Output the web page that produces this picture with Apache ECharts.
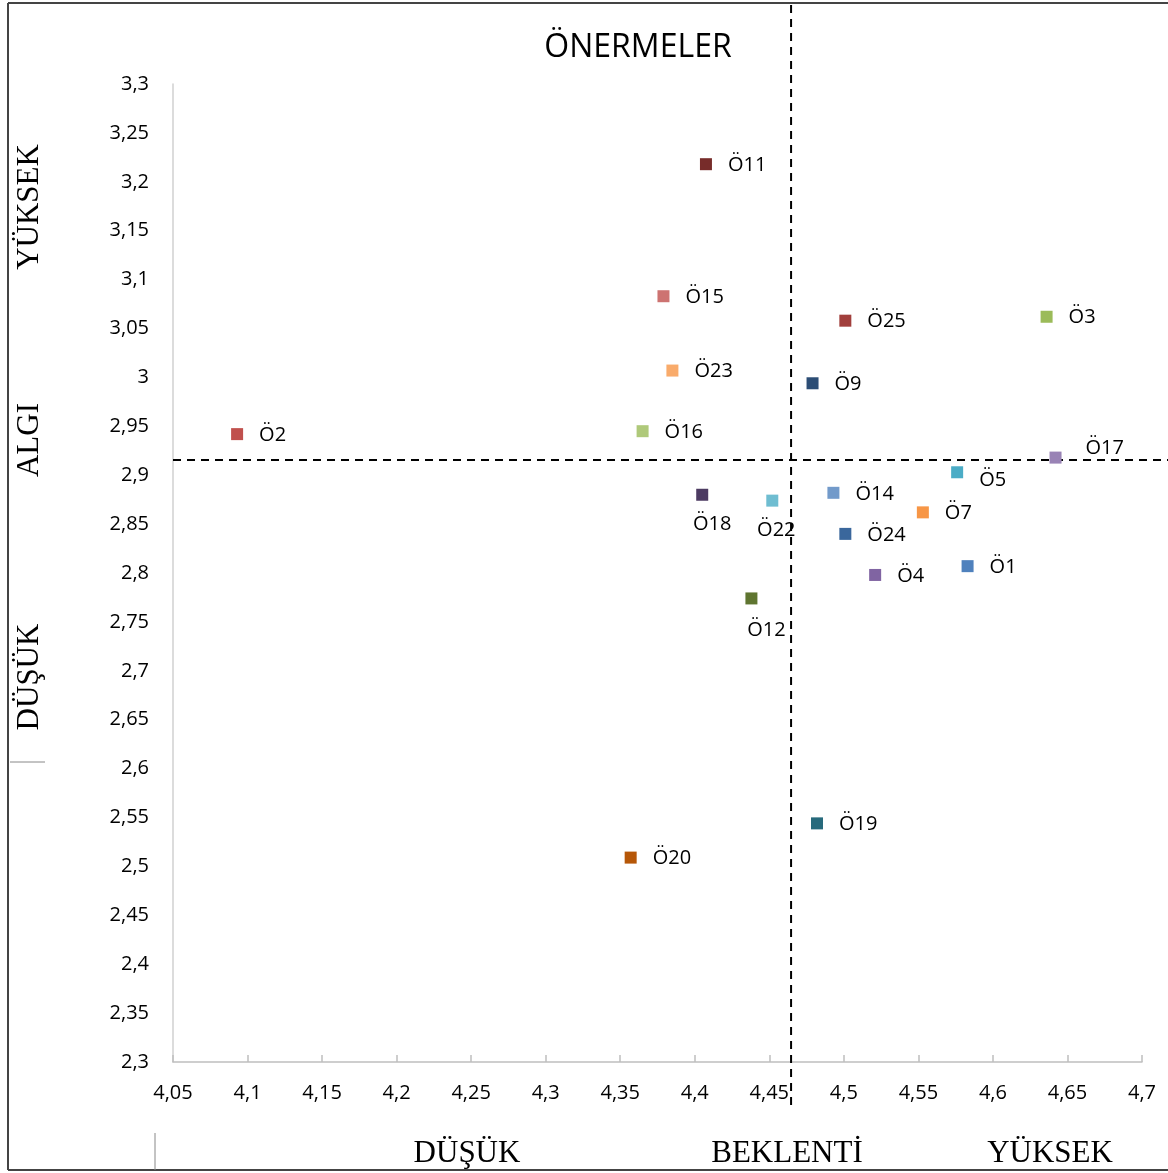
<!DOCTYPE html>
<html>
<head>
<meta charset="utf-8">
<script src="https://cdn.jsdelivr.net/npm/echarts@6/dist/echarts.min.js"></script>
<style>
  html, body { margin: 0; padding: 0; background: #fff; }
  #chart { width: 1168px; height: 1173px; }
</style>
</head>
<body>
<div id="chart"></div>
<script>
// önermeler: beklenti (x) ve algı (y) ortalamaları
const names = ['Ö1', 'Ö2', 'Ö3', 'Ö4', 'Ö5', 'Ö7', 'Ö9', 'Ö11', 'Ö12', 'Ö14',
  'Ö15', 'Ö16', 'Ö17', 'Ö18', 'Ö19', 'Ö20', 'Ö22', 'Ö23', 'Ö24', 'Ö25'];
const beklenti = [4.583, 4.093, 4.636, 4.521, 4.576, 4.553, 4.479, 4.4075, 4.438, 4.493,
  4.379, 4.365, 4.642, 4.405, 4.482, 4.357, 4.452, 4.385, 4.501, 4.501];
const algi = [2.807, 2.942, 3.062, 2.798, 2.903, 2.862, 2.994, 3.218, 2.774, 2.882,
  3.083, 2.945, 2.918, 2.880, 2.544, 2.509, 2.874, 3.007, 2.840, 3.058];
const colors = ['#4F81BD', '#C0504D', '#9BBB59', '#8064A2', '#4BACC6', '#F79646', '#2C4D75', '#772C2A', '#5F7530', '#729ACA',
  '#CD7371', '#AFC97A', '#9983B5', '#4D3B62', '#276A7C', '#B65708', '#6FBDD1', '#F9AB6B', '#3A679C', '#A13F3C'];

// ortalama çizgileri
const beklentiOrt = 4.4646;
const algiOrt = 2.9155;

const xTicks = { min: 4.05, max: 4.7, interval: 0.05 };
const yTicks = { min: 2.3, max: 3.3, interval: 0.05 };

// etiket yerleşimi (varsayılan: sağ)
const labelPlace = {
  'Ö18': { position: 'bottom', offset: [10, -2] },
  'Ö22': { position: 'bottom', offset: [4, -2] },
  'Ö12': { position: 'bottom', offset: [15, 0] },
  'Ö17': { position: 'right', offset: [8, -9] },
  'Ö5': { position: 'right', offset: [0, 8] },
};

const comma = v => String(+v.toFixed(2)).replace('.', ',');
const labelFont = '"Open Sans", "Noto Sans", sans-serif';
const serif = '"Liberation Serif", "DejaVu Serif", serif';

const chart = echarts.init(document.getElementById('chart'));

const data = names.map((n, i) => {
  const lp = labelPlace[n] || { position: 'right', offset: [0, 1] };
  return {
    name: n,
    value: [beklenti[i], algi[i]],
    itemStyle: { color: colors[i], opacity: 1 },
    label: { position: lp.position, offset: lp.offset },
  };
});

chart.setOption({
  animation: false,
  backgroundColor: '#fff',
  grid: { left: 173, right: 26, top: 84, bottom: 111 },
  xAxis: {
    type: 'value',
    min: xTicks.min, max: xTicks.max, interval: xTicks.interval,
    axisLine: { lineStyle: { color: '#BFBFBF', width: 1.5 } },
    axisTick: { show: true, inside: true, length: 7, lineStyle: { color: '#BFBFBF', width: 1.5 } },
    axisLabel: { color: '#000', fontSize: 20, fontFamily: labelFont, margin: 21, formatter: comma },
    splitLine: { show: false },
  },
  yAxis: {
    type: 'value',
    min: yTicks.min, max: yTicks.max, interval: yTicks.interval,
    axisLine: { show: true, lineStyle: { color: '#D0D0D0', width: 1.5 } },
    axisTick: { show: false },
    axisLabel: { color: '#000', fontSize: 20, fontFamily: labelFont, margin: 24, formatter: comma },
    splitLine: { show: false },
  },
  series: [{
    type: 'scatter',
    symbol: 'rect',
    symbolSize: 12,
    data: data,
    itemStyle: { opacity: 1 },
    label: {
      show: true,
      formatter: p => p.name,
      distance: 16,
      color: '#000',
      fontSize: 20,
      fontFamily: labelFont,
    },
    z: 5,
  }],
});

// çerçeve, başlık, eksen adları ve ortalama çizgileri
const xm = chart.convertToPixel({ gridIndex: 0 }, [beklentiOrt, algiOrt]);
const dash = { stroke: '#000', lineWidth: 2, lineDash: [8, 6] };

chart.setOption({
  graphic: [
    { type: 'line', shape: { x1: 8, y1: 3, x2: 1168, y2: 3 }, style: { stroke: '#444', lineWidth: 2 } },
    { type: 'line', shape: { x1: 8, y1: 3, x2: 8, y2: 1170 }, style: { stroke: '#444', lineWidth: 2 } },
    { type: 'line', shape: { x1: 8, y1: 1170, x2: 1168, y2: 1170 }, style: { stroke: '#444', lineWidth: 2 } },
    { type: 'line', shape: { x1: 10, y1: 762, x2: 45, y2: 762 }, style: { stroke: '#888', lineWidth: 1 } },
    { type: 'line', shape: { x1: 155, y1: 1133, x2: 155, y2: 1170 }, style: { stroke: '#888', lineWidth: 1 } },
    { type: 'line', z: 3, shape: { x1: xm[0], y1: 5, x2: xm[0], y2: 1110 }, style: dash },
    { type: 'line', z: 3, shape: { x1: 173, y1: xm[1], x2: 1168, y2: xm[1] }, style: dash },
    { type: 'text', x: 638, y: 48, style: { text: 'ÖNERMELER', font: '32px ' + labelFont, fill: '#000', align: 'center', verticalAlign: 'middle' } },
    { type: 'text', x: 30, y: 207, rotation: Math.PI / 2, style: { text: 'YÜKSEK', font: '31px ' + serif, fill: '#000', align: 'center', verticalAlign: 'middle' } },
    { type: 'text', x: 30, y: 440, rotation: Math.PI / 2, style: { text: 'ALGI', font: '31px ' + serif, fill: '#000', align: 'center', verticalAlign: 'middle' } },
    { type: 'text', x: 30, y: 677, rotation: Math.PI / 2, style: { text: 'DÜŞÜK', font: '31px ' + serif, fill: '#000', align: 'center', verticalAlign: 'middle' } },
    { type: 'text', x: 467, y: 1154, style: { text: 'DÜŞÜK', font: '31px ' + serif, fill: '#000', align: 'center', verticalAlign: 'middle' } },
    { type: 'text', x: 787, y: 1154, style: { text: 'BEKLENTİ', font: '31px ' + serif, fill: '#000', align: 'center', verticalAlign: 'middle' } },
    { type: 'text', x: 1050, y: 1154, style: { text: 'YÜKSEK', font: '31px ' + serif, fill: '#000', align: 'center', verticalAlign: 'middle' } },
  ],
});
</script>
</body>
</html>
